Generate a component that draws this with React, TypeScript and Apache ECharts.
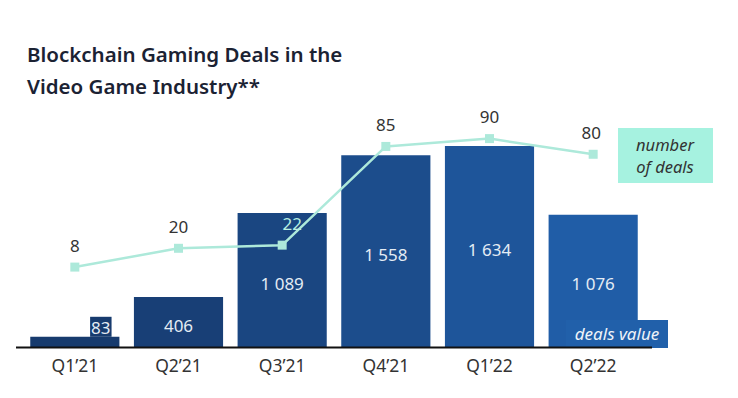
import React, { useEffect, useRef } from "react";
import * as echarts from "echarts";

const categories = ["Q1’21", "Q2’21", "Q3’21", "Q4’21", "Q1’22", "Q2’22"];
const dealsValue = [83, 406, 1089, 1558, 1634, 1076];
const dealsCount = [8, 20, 22, 85, 90, 80];
const barColors = ["#173b6e", "#183f76", "#1a4681", "#1c4d8c", "#1e559a", "#205da7"];
const valueLabels = ["83", "406", "1 089", "1 558", "1 634", "1 076"];

export default function App() {
  const ref = useRef<HTMLDivElement>(null);
  useEffect(() => {
    if (!ref.current) return;
    const chart = echarts.init(ref.current, undefined, { renderer: "svg" });
    const font = "'Noto Sans', 'Open Sans', sans-serif";
    chart.setOption({
      animation: false,
      grid: { left: 23, right: 93, top: 101, bottom: 51 },
      title: {
        text: "Blockchain Gaming Deals in the\nVideo Game Industry**",
        left: 22,
        top: 33,
        textStyle: { fontFamily: font, fontSize: 20.5, fontWeight: 600, color: "#1b2233", lineHeight: 32 },
      },
      xAxis: {
        type: "category",
        data: categories,
        axisLine: { show: false },
        axisTick: { show: false },
        axisLabel: { fontFamily: font, fontSize: 17.5, color: "#333", margin: 9 },
      },
      yAxis: [
        { type: "value", min: 0, max: 2000, show: false, splitLine: { show: false } },
        { type: "value", min: -43, max: 114, show: false, splitLine: { show: false } },
      ],
      series: [
        {
          type: "bar",
          data: dealsValue.map((v, i) => ({
            value: v,
            itemStyle: { color: barColors[i] },
            label:
              i === 0
                ? {
                    show: true,
                    position: "top",
                    distance: 0,
                    offset: [26, 0],
                    backgroundColor: barColors[0],
                    padding: [2, 1, 1, 1],
                  }
                : undefined,
          })),
          barCategoryGap: "14%",
          label: {
            show: true,
            position: "inside",
            offset: [0, 3],
            fontFamily: font,
            fontSize: 17,
            color: "#e4ecf4",
            formatter: (p: any) => valueLabels[p.dataIndex],
          },
          z: 1,
        },
        {
          type: "line",
          yAxisIndex: 1,
          data: dealsCount.map((v, i) => ({
            value: v,
            label:
              i === 2 ? { color: "#b8efe2", offset: [10, 0] } : i === 5 ? { offset: [-2, 0] } : undefined,
          })),
          symbol: "rect",
          symbolSize: 9,
          lineStyle: { color: "#ade9da", width: 2.5 },
          itemStyle: { color: "#ade9da" },
          label: {
            show: true,
            position: "top",
            distance: 9,
            fontFamily: font,
            fontSize: 17,
            color: "#333",
          },
          z: 3,
        },
      ],
      graphic: [
        { type: "line", shape: { x1: 16, y1: 347.5, x2: 652, y2: 347.5 }, style: { stroke: "#111", lineWidth: 2 }, z: 10 },
        { type: "rect", shape: { x: 618, y: 128, width: 95, height: 55 }, style: { fill: "#a6f2e0" }, z: 5 },
        {
          type: "text",
          x: 665,
          y: 155,
          style: {
            text: "number\nof deals",
            fontFamily: font,
            fontSize: 16.5,
            fontStyle: "italic",
            fill: "#333",
            align: "center",
            verticalAlign: "middle",
            lineHeight: 22,
          },
          z: 6,
        },
        { type: "rect", shape: { x: 566, y: 320, width: 102, height: 28 }, style: { fill: "#2160aa" }, z: 5 },
        {
          type: "text",
          x: 617,
          y: 333,
          style: {
            text: "deals value",
            fontFamily: font,
            fontSize: 17,
            fontStyle: "italic",
            fill: "#eef3f9",
            align: "center",
            verticalAlign: "middle",
          },
          z: 6,
        },
      ],
    });
    return () => chart.dispose();
  }, []);
  return <div ref={ref} style={{ width: 738, height: 398, position: "absolute", left: 0, top: 0, background: "#fff" }} />;
}
